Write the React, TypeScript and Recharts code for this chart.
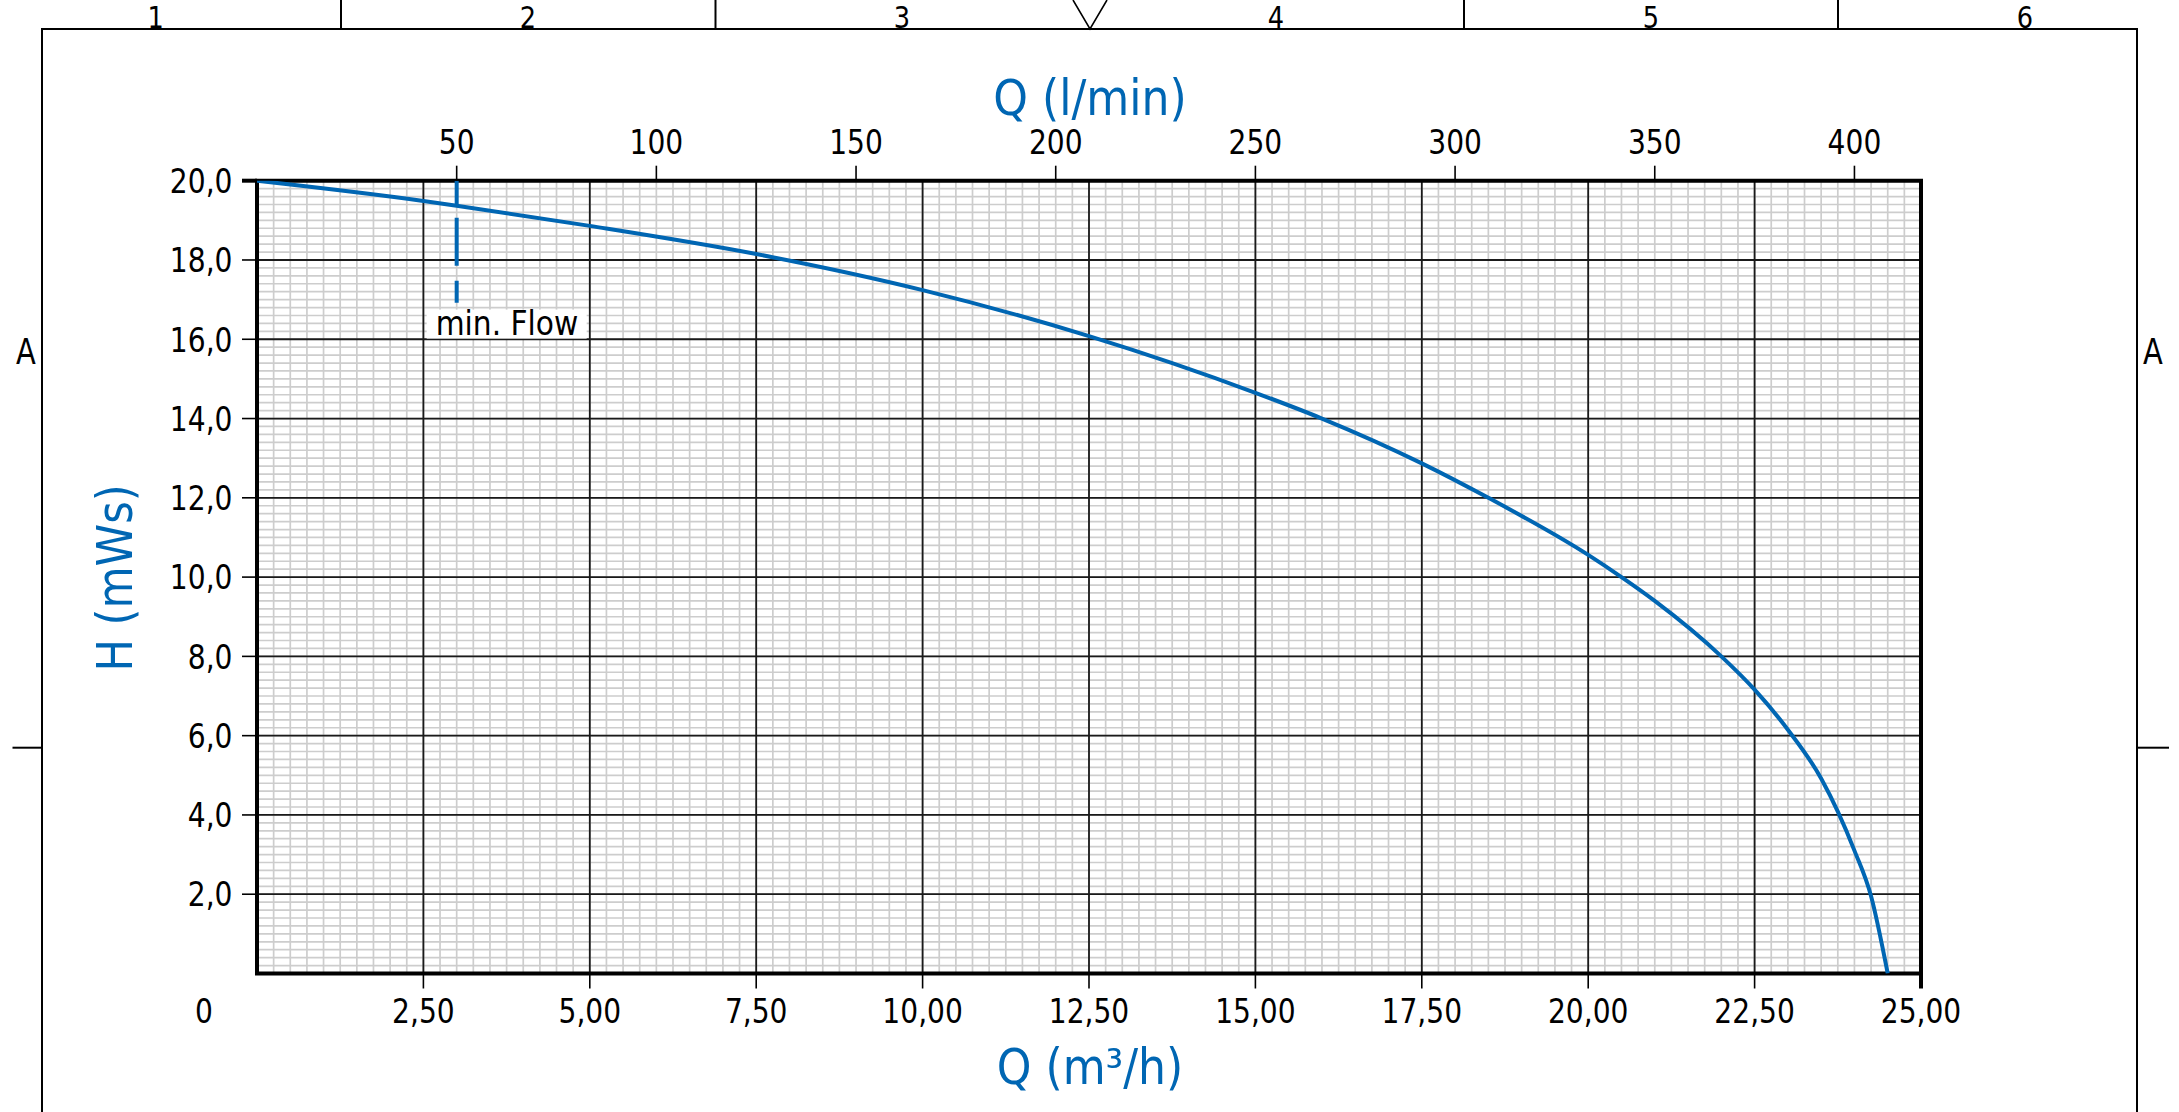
import React from 'react';
import {
  ComposedChart,
  Line,
  XAxis,
  YAxis,
  CartesianGrid,
  ReferenceArea,
} from 'recharts';

// ---- data ----
const flowM3h = [0, 2.5, 3.0, 5.0, 7.5, 10.0, 12.5, 15.0, 16.0, 17.5, 18.5, 20.0, 20.5, 21.0, 22.0, 22.5, 23.0, 23.5, 24.0, 24.25, 24.5];
const headM = [20.0, 19.49, 19.37, 18.86, 18.15, 17.24, 16.08, 14.65, 14.0, 12.87, 12.0, 10.56, 10.0, 9.4, 8.0, 7.16, 6.15, 4.92, 3.1, 1.95, 0.0];
const flowTicks = [0, 2.5, 5, 7.5, 10, 12.5, 15, 17.5, 20, 22.5, 25];
const flowLpmTicks = [50, 100, 150, 200, 250, 300, 350, 400];
const headTicks = [2, 4, 6, 8, 10, 12, 14, 16, 18, 20];
const minFlowLpm = [50, 50];
const minFlowHead = [20, 16.9];
const zoneLabels = ['1', '2', '3', '4', '5', '6'];

const FLOW_MAX = 25;
const HEAD_MAX = 20;
const LPM_MAX = (FLOW_MAX * 1000) / 60;

const minorFlow = Array.from({ length: 101 }, (_, i) => i * 0.25);
const minorHead = Array.from({ length: 101 }, (_, i) => Math.round(i * 2) / 10);

const data = flowM3h.map((q, i) => ({ q, h: headM[i] }));
const minFlowData = minFlowLpm.map((lpm, i) => ({ lpm, h: minFlowHead[i] }));

// ---- style ----
const W = 2179;
const H = 1112;
const BLUE = '#0066b3';
const FONT = "'DejaVu Sans Condensed', 'DejaVu Sans', sans-serif";
const TICK_FS = 34;
const SX = 0.92;
const TITLE_FS = 49;
const TICK = 15;
const XM_BOTTOM = 10.5;
const XM_TOP = 11.7;
const YM = 9.5;

function SText(props: any) {
  const { x, y, size = TICK_FS, anchor = 'start', dy, fill = '#000', sx = SX, children } = props;
  return (
    <text
      transform={`translate(${x},${y}) scale(${sx},1)`}
      x={0}
      y={0}
      dy={dy}
      textAnchor={anchor}
      fontSize={size}
      fill={fill}
      fontFamily={FONT}
    >
      {children}
    </text>
  );
}

function BottomTick(props: any) {
  const { x, y, payload } = props;
  const v = payload.value as number;
  if (v === 0) {
    return (
      <SText x={x - 53} y={y} dy="0.72em" anchor="middle">
        0
      </SText>
    );
  }
  const label = v.toFixed(2).replace('.', ',');
  return (
    <g>
      <line x1={x} x2={x} y1={y - XM_BOTTOM - TICK} y2={y - XM_BOTTOM} stroke="#000" strokeWidth={v === FLOW_MAX ? 4 : 1.6} />
      <SText x={x} y={y} dy="0.72em" anchor="middle">
        {label}
      </SText>
    </g>
  );
}

function TopTick(props: any) {
  const { x, y, payload } = props;
  return (
    <g>
      <line x1={x} x2={x} y1={y + XM_TOP} y2={y + XM_TOP + TICK} stroke="#000" strokeWidth={1.6} />
      <SText x={x} y={y} anchor="middle">
        {String(payload.value)}
      </SText>
    </g>
  );
}

function LeftTick(props: any) {
  const { x, y, payload } = props;
  const v = payload.value as number;
  return (
    <g>
      <line x1={x + YM} x2={x + YM + TICK} y1={y} y2={y} stroke="#000" strokeWidth={v === HEAD_MAX ? 4 : 1.6} />
      <SText x={x} y={y} dy="0.36em" anchor="end">
        {v.toFixed(1).replace('.', ',')}
      </SText>
    </g>
  );
}

function MinFlowLabel(p: any) {
  const idx = p.index;
  if (idx !== 1) return <g />;
  const x = p.x ?? p.viewBox?.x ?? 0;
  const y = p.y ?? p.viewBox?.y ?? 0;
  return (
    <g>
      <rect x={x - 30} y={y + 6} width={160} height={29} fill="#fff" />
      <SText x={x - 21} y={y + 31.7} size={33} sx={1}>
        min. Flow
      </SText>
    </g>
  );
}

const zoneCenters = [155.6, 528, 902, 1276, 1651, 2025];
const zoneDividers = [341, 715.5, 1464, 1838];

function Frame() {
  return (
    <svg width={W} height={H} style={{ position: 'absolute', left: 0, top: 0, pointerEvents: 'none' }}>
      <polyline points={`42,${H} 42,29 2137,29 2137,${H}`} fill="none" stroke="#000" strokeWidth={2} />
      {zoneDividers.map((x) => (
        <line key={x} x1={x} x2={x} y1={0} y2={29} stroke="#000" strokeWidth={2} />
      ))}
      <polyline points="1073,0 1090,29 1107,0" fill="none" stroke="#000" strokeWidth={1.6} />
      {zoneLabels.map((z, i) => (
        <SText key={z} x={zoneCenters[i]} y={28} anchor="middle" size={31}>
          {z}
        </SText>
      ))}
      <SText x={26} y={364} anchor="middle" size={35}>A</SText>
      <SText x={2153} y={364} anchor="middle" size={35}>A</SText>
      <line x1={12.5} x2={42} y1={747.7} y2={747.7} stroke="#000" strokeWidth={2} />
      <line x1={2137} x2={2169} y1={747.7} y2={747.7} stroke="#000" strokeWidth={2} />
      <SText x={1090} y={115} anchor="middle" size={TITLE_FS} fill={BLUE} sx={1}>
        Q (l/min)
      </SText>
      <SText x={1090} y={1084} anchor="middle" size={TITLE_FS} fill={BLUE} sx={1}>
        Q (m³/h)
      </SText>
      <g transform="rotate(-90, 132, 578)">
        <SText x={132} y={578} anchor="middle" size={TITLE_FS} fill={BLUE} sx={0.98}>
          H (mWs)
        </SText>
      </g>
    </svg>
  );
}

export default function App() {
  return (
    <div style={{ position: 'absolute', left: 0, top: 0, width: W, height: H, overflow: 'hidden', background: '#fff' }}>
      <ComposedChart
        width={W}
        height={H}
        data={data}
        margin={{ top: 140.7, left: 197, right: 258, bottom: 98.5 }}
      >
        <XAxis
          xAxisId="q"
          dataKey="q"
          type="number"
          domain={[0, FLOW_MAX]}
          ticks={flowTicks}
          interval={0}
          allowDataOverflow
          height={40}
          tickSize={TICK}
          tickMargin={XM_BOTTOM}
          axisLine={false}
          tickLine={false}
          tick={(p: any) => <BottomTick {...p} />}
        />
        <XAxis
          xAxisId="lpm"
          dataKey="lpm"
          orientation="top"
          type="number"
          domain={[0, LPM_MAX]}
          ticks={flowLpmTicks}
          interval={0}
          allowDataOverflow
          height={40}
          tickSize={TICK}
          tickMargin={XM_TOP}
          axisLine={false}
          tickLine={false}
          tick={(p: any) => <TopTick {...p} />}
        />
        <YAxis
          yAxisId="h"
          type="number"
          domain={[0, HEAD_MAX]}
          ticks={headTicks}
          interval={0}
          allowDataOverflow
          width={60}
          tickSize={TICK}
          tickMargin={YM}
          axisLine={false}
          tickLine={false}
          tick={(p: any) => <LeftTick {...p} />}
        />
        <CartesianGrid
          xAxisId="q"
          yAxisId="h"
          verticalValues={minorFlow}
          horizontalValues={minorHead}
          stroke="#cdcdcd"
          strokeWidth={1.7}
        />
        <CartesianGrid xAxisId="q" yAxisId="h" stroke="#1a1a1a" strokeWidth={1.8} />
        <Line
          xAxisId="lpm"
          yAxisId="h"
          data={minFlowData}
          dataKey="h"
          type="linear"
          stroke={BLUE}
          strokeWidth={4}
          strokeDasharray="25 12 48 15 22 200"
          dot={false}
          activeDot={false}
          label={(p: any) => <MinFlowLabel {...p} />}
          isAnimationActive={false}
        />
        <Line
          xAxisId="q"
          yAxisId="h"
          dataKey="h"
          type="monotone"
          stroke={BLUE}
          strokeWidth={4}
          dot={false}
          activeDot={false}
          isAnimationActive={false}
        />
        <ReferenceArea
          xAxisId="q"
          yAxisId="h"
          x1={0}
          x2={FLOW_MAX}
          y1={0}
          y2={HEAD_MAX}
          fill="none"
          fillOpacity={0}
          stroke="#000"
          strokeWidth={4}
          ifOverflow="visible"
        />
      </ComposedChart>
      <Frame />
    </div>
  );
}
